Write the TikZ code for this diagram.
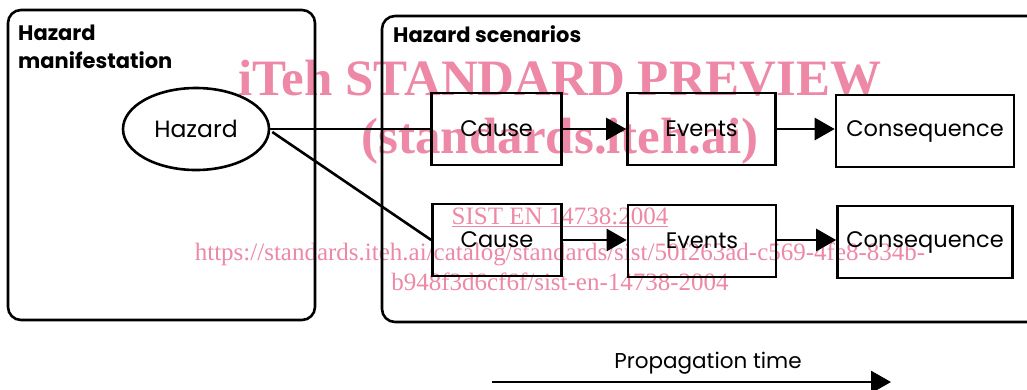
\documentclass[tikz,border=0pt]{standalone}
\usepackage{fontspec}
\setmainfont{Poppins}
\newfontfamily\wmfont{Liberation Serif}
\usetikzlibrary{arrows.meta,shapes.geometric}
\definecolor{wmpink}{RGB}{237,136,166}
\tikzset{
  lbl/.style={font=\fontsize{22.5}{26}\selectfont},
  stepbox/.style={draw, line width=2.6pt, minimum height=72pt, inner sep=0pt, lbl},
  frame/.style={draw, line width=2.6pt, rounded corners=13pt},
  link/.style={line width=2.6pt},
  flow/.style={line width=2.6pt, -{Triangle[length=20pt,width=22pt]}},
  heading/.style={anchor=base west, inner sep=0pt, font=\fontsize{21}{24}\selectfont\bfseries},
  wm/.style={text=wmpink, inner sep=0pt, anchor=base},
  wmbig/.style={wm, font=\wmfont\fontsize{51}{51}\selectfont\bfseries},
  wmsmall/.style={wm, font=\wmfont\fontsize{25}{25}\selectfont},
}
\begin{document}
\begin{tikzpicture}[x=1pt, y=-1pt]
\useasboundingbox (0,0) rectangle (1027,389);

% watermark text, drawn underneath the diagram
\node[wmbig] (w1) at (560,95) {iTeh STANDARD PREVIEW};
\node[wmbig] (w2) at (560,153) {(standards.iteh.ai)};
\node[wmsmall] (w3) at (560,224) {\underline{SIST EN 14738:2004}};
\node[wmsmall] (w4) at (560,260) {https://standards.iteh.ai/catalog/standards/sist/50f263ad-c569-4fe8-834b-};
\node[wmsmall] (w5) at (560,290) {b948f3d6cf6f/sist-en-14738-2004};

% outer frames
\draw[frame] (8,10) rectangle (315,320);
\draw[frame] (382,16) rectangle (1040,322);
\node[heading] (h1) at (18,40) {Hazard};
\node[heading] (h2) at (18,68) {manifestation};
\node[heading] (h3) at (393,42) {Hazard scenarios};

% hazard source
\node[draw, ellipse, line width=2.6pt, minimum width=146pt, minimum height=82pt, inner sep=0pt,
      font=\fontsize{23.5}{27}\selectfont] (hz) at (196,129) {Hazard};

% first scenario
\node[stepbox, minimum width=130pt] (c1) at (496.6,129) {Cause};
\node[stepbox, minimum width=148pt] (e1) at (701.5,129) {Events};
\node[stepbox, minimum width=178pt] (q1) at (925,131) {Consequence};

% second scenario
\node[stepbox, minimum width=129pt] (c2) at (497,240) {Cause};
\node[stepbox, minimum width=148pt] (e2) at (702,241) {Events};
\node[stepbox, minimum width=175pt] (q2) at (925,242) {Consequence};

\draw[link] (hz.east) -- (c1.west);
\draw[link] (hz.east) ++(2,3) coordinate (hzb) -- (c2.west);
\draw[flow] (c1.east) -- (e1.west);
\draw[flow] (e1.east) -- (q1.west |- e1.east);
\draw[flow] (c2.east) -- (e2.west |- c2.east);
\draw[flow] (e2.east |- c2.east) -- (q2.west |- c2.east);

% time axis
\coordinate (t0) at (492,382);
\coordinate (t1) at (891,382);
\draw[flow] (t0) -- (t1);
\node[font=\fontsize{21.5}{25}\selectfont, anchor=base] (pt) at (708,368) {Propagation time};
\end{tikzpicture}
\end{document}
